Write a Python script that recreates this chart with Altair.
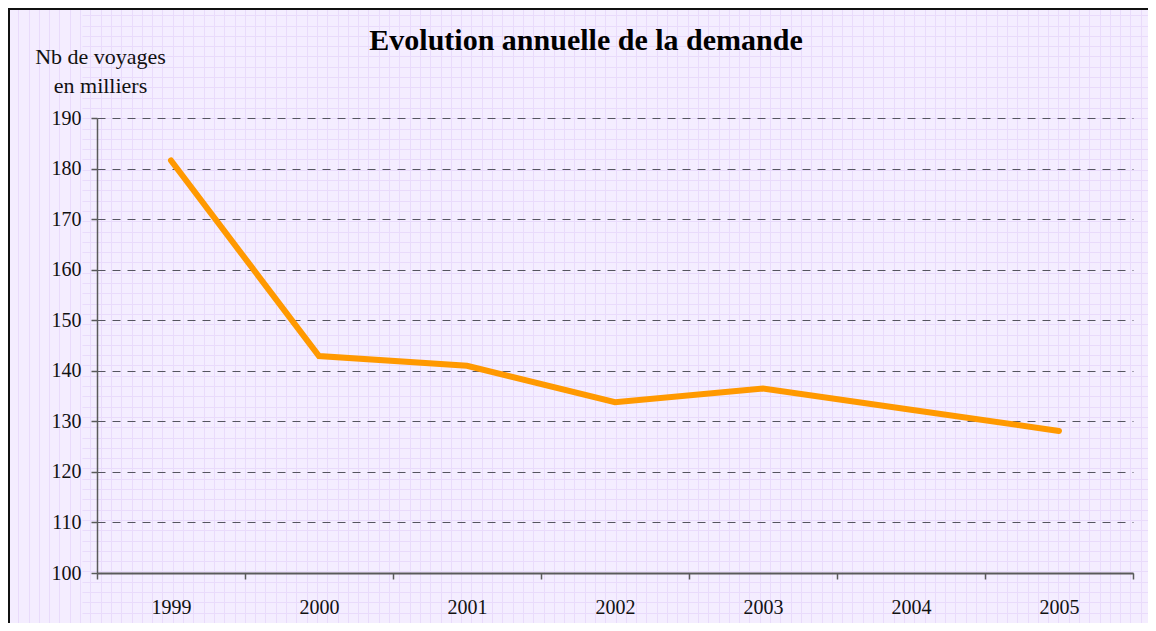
import altair as alt
import pandas as pd

years = ["1999", "2000", "2001", "2002", "2003", "2004", "2005"]
voyages = [181.6, 142.9, 141.0, 133.8, 136.5, 132.3, 128.1]
y_ticks = [100, 110, 120, 130, 140, 150, 160, 170, 180, 190]

df = pd.DataFrame({"annee": years, "voyages": voyages})
dummy = pd.DataFrame({"a": [0]})

PLOT_W, PLOT_H = 1036, 455
PAD_L, PAD_T = 89, 110
TOTAL_W, TOTAL_H = 1140, 615
FONT = "Liberation Serif"
BG = "#F4EDFF"
TEX = "#E9DBFB"

# faint background texture (graph-paper look), drawn through axis grids
texture = alt.Chart(dummy).mark_point(opacity=0).encode(
    x=alt.X("a:Q",
            scale=alt.Scale(domain=[0, 1107], range=[-PAD_L, TOTAL_W - PAD_L], nice=False, zero=False),
            axis=alt.Axis(orient="top", grid=True, tickCount=120, labels=False, ticks=False,
                          domain=False, title=None, gridColor=TEX, gridWidth=1, gridOpacity=1)),
    y=alt.Y("a:Q",
            scale=alt.Scale(domain=[0, 597], range=[TOTAL_H - PAD_T, -PAD_T], nice=False, zero=False),
            axis=alt.Axis(orient="right", grid=True, tickCount=70, labels=False, ticks=False,
                          domain=False, title=None, gridColor=TEX, gridWidth=1, gridOpacity=1)),
)

line = alt.Chart(df).mark_line(color="#FF9900", strokeWidth=6, strokeCap="round").encode(
    x=alt.X("annee:N",
            scale=alt.Scale(type="band", paddingInner=0, paddingOuter=0),
            axis=alt.Axis(orient="bottom", title=None, labelAngle=0, tickBand="extent", grid=False,
                          domainColor="#5a5a5a", domainWidth=2, tickColor="#5a5a5a",
                          tickWidth=1.5, tickSize=6, labelPadding=18,
                          labelFont=FONT, labelFontSize=20, labelColor="#111")),
    y=alt.Y("voyages:Q",
            scale=alt.Scale(domain=[100, 190], nice=False, zero=False),
            axis=alt.Axis(orient="left", values=y_ticks, grid=True, gridDash=[8, 7],
                          gridColor="#555560", gridWidth=1, domainColor="#5a5a5a",
                          domainWidth=1.5, tickColor="#5a5a5a", tickWidth=1.5, tickSize=6,
                          labelPadding=10, labelFont=FONT, labelFontSize=20, labelColor="#111",
                          title=["Nb de voyages", "en milliers"], titleAngle=0,
                          titleFont=FONT, titleFontSize=22, titleFontWeight="normal",
                          titleColor="#111", titleAlign="center", titleBaseline="alphabetic",
                          titleX=3, titleY=-55, titleLineHeight=29)),
)

border = alt.Chart(dummy).mark_rect(fillOpacity=0, stroke="#111", strokeWidth=3).encode(
    x=alt.value(-PAD_L + 0.5), x2=alt.value(TOTAL_W + 50),
    y=alt.value(-PAD_T + 0.5), y2=alt.value(TOTAL_H + 50),
)

chart = alt.layer(texture, line, border).resolve_scale(
    x="independent", y="independent"
).resolve_axis(x="independent", y="independent").properties(
    width=PLOT_W, height=PLOT_H,
    padding={"left": PAD_L, "top": PAD_T, "right": TOTAL_W - PAD_L - PLOT_W,
             "bottom": TOTAL_H - PAD_T - PLOT_H},
    autosize=alt.AutoSizeParams(type="none"),
    title=alt.TitleParams("Evolution annuelle de la demande", font=FONT, fontSize=30,
                          fontWeight="bold", color="#000", anchor="middle", frame="group",
                          dx=-29, dy=49, offset=0),
    background=BG,
).configure_view(stroke=None)

chart.save("out.html", embed_options={"renderer": "svg", "actions": False})
